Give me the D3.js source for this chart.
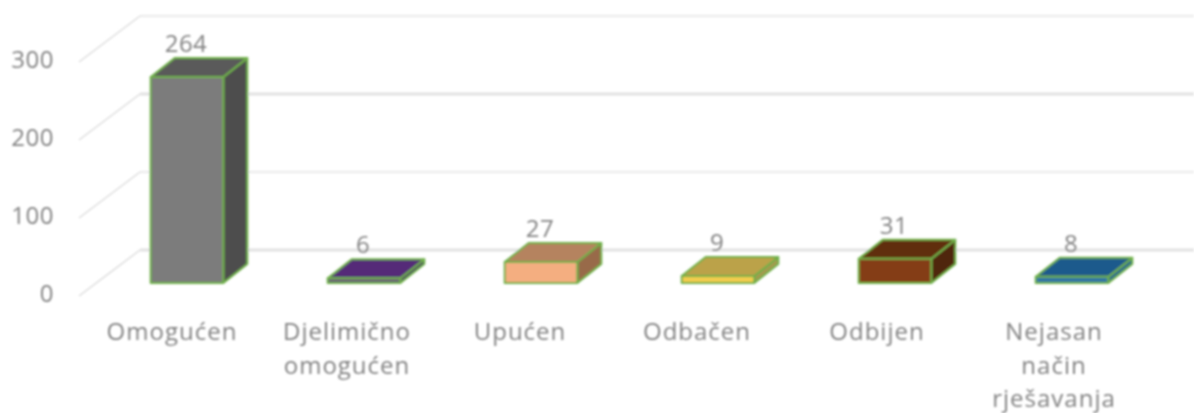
<!DOCTYPE html>
<html>
<head>
<meta charset="utf-8">
<script src="https://cdn.jsdelivr.net/npm/d3@7"></script>
<style>
  html, body { margin: 0; padding: 0; background: #fff; overflow: hidden; }
  text { font-family: "Open Sans", sans-serif; fill: #828282; }
</style>
</head>
<body>
<div id="canvas"></div>
<script>
"use strict"

let svgWidth = 1194;
let svgHeight = 413;

/* Data */
let categories = ["Omogućen", "Djelimično omogućen", "Upućen", "Odbačen", "Odbijen", "Nejasan način rješavanja"];
let values = [264, 6, 27, 9, 31, 8];
let yTicks = [0, 100, 200, 300];

/* Face colours per bar */
let frontColors = ["#7b7b7b", "#6a5a78", "#f4ae80", "#f2cc4d", "#843c18", "#2e75a5"];
let topColors = ["#5a5a5a", "#542a78", "#b5835f", "#bba24a", "#602d0d", "#1f5a8c"];
let sideColors = ["#4d4d4d", "#4a2a66", "#986b4a", "#a59a4f", "#4f2508", "#2b6a8c"];

// 3d offset of the bars
let depthX = 24;
let depthY = 19;

// category labels don't sit under the bars, they drift left by these amounts
let labelShifts = [15, 17, 21, 21, 18, 18];

let svg = d3.select("#canvas")
    .append("svg")
    .attr("width", svgWidth)
    .attr("height", svgHeight);

// reference image is soft, so everything gets a slight blur
svg.append("filter")
    .attr("id", "soft")
    .append("feGaussianBlur")
    .attr("stdDeviation", 0.8);

let chart = svg.append("g").attr("filter", "url(#soft)");

/* Scales */
let xScale = d3.scaleBand()
    .domain(categories)
    .range([98.5, 1160.5])
    .paddingInner(0.59)
    .paddingOuter(0.295);

let yScale = d3.scaleLinear()
    .domain([0, 300])
    .range([283, 49]);

/* Back wall grid and the diagonal floor lines */
let grid = chart.selectAll("g.grid")
    .data(yTicks)
    .join("g")
    .attr("class", "grid");

grid.append("line")
    .attr("x1", 140)
    .attr("x2", svgWidth)
    .attr("y1", function (value) { return yScale(value) - 33; })
    .attr("y2", function (value) { return yScale(value) - 33; })
    .attr("stroke", "#e2e2e2")
    .attr("stroke-width", function (value) { return value === 0 || value === 200 ? 3 : 1.5; });

grid.append("line")
    .attr("x1", 79)
    .attr("x2", 140)
    .attr("y1", function (value) { return yScale(value) + 13; })
    .attr("y2", function (value) { return yScale(value) - 33; })
    .attr("stroke", "#dcdcdc")
    .attr("stroke-width", 1.5);

/* Y axis labels */
let yAxis = chart.append("g")
    .attr("transform", "translate(60,11)")
    .call(d3.axisLeft(yScale).tickValues(yTicks).tickSize(0).tickPadding(6));

yAxis.select(".domain").remove();
yAxis.selectAll("text")
    .attr("font-size", 24)
    .attr("letter-spacing", 0.5)
    .style("font-family", "\"Open Sans\", sans-serif")
    .attr("fill", "#828282");

/* Bars: three faces each */
let bars = chart.selectAll("g.bar")
    .data(values)
    .join("g")
    .attr("class", "bar")
    .attr("stroke", "#6fb04a")
    .attr("stroke-width", 2)
    .attr("stroke-linejoin", "round");

function facePath(points) {
    return d3.line()(points) + "Z";
}

function barLeft(i) { return xScale(categories[i]); }
function barRight(i) { return barLeft(i) + xScale.bandwidth(); }

bars.append("path") // side
    .attr("fill", function (d, i) { return sideColors[i]; })
    .attr("d", function (d, i) {
        let r = barRight(i), top = yScale(d), base = yScale(0);
        return facePath([[r, top], [r + depthX, top - depthY], [r + depthX, base - depthY], [r, base]]);
    });

bars.append("path") // top
    .attr("fill", function (d, i) { return topColors[i]; })
    .attr("d", function (d, i) {
        let l = barLeft(i), r = barRight(i), top = yScale(d);
        return facePath([[l, top], [l + depthX, top - depthY], [r + depthX, top - depthY], [r, top]]);
    });

bars.append("rect") // front
    .attr("fill", function (d, i) { return frontColors[i]; })
    .attr("x", function (d, i) { return barLeft(i); })
    .attr("y", function (d) { return yScale(d); })
    .attr("width", xScale.bandwidth())
    .attr("height", function (d) { return yScale(0) - yScale(d); });

/* Value labels */
chart.selectAll("text.valueLabel")
    .data(values)
    .join("text")
    .attr("class", "valueLabel")
    .attr("x", function (d, i) { return barLeft(i) + xScale.bandwidth() / 2 - 1; })
    .attr("y", function (d) { return yScale(d) - 25; })
    .attr("text-anchor", "middle")
    .attr("font-size", 24)
    .attr("letter-spacing", 0.5)
    .text(function (d) { return String(d); });

/* Category labels, one word per line */
let catLabels = chart.selectAll("text.catLabel")
    .data(categories)
    .join("text")
    .attr("class", "catLabel")
    .attr("text-anchor", "middle")
    .attr("font-size", 24)
    .attr("letter-spacing", 1);

catLabels.each(function (d, i) {
    let words = d.split(" ");
    let label = d3.select(this);
    words.forEach(function (word, n) {
        label.append("tspan")
            .attr("x", xScale(d) + xScale.bandwidth() / 2 - labelShifts[i])
            .attr("y", 340 + n * 33.5)
            .text(word);
    });
});
</script>
</body>
</html>
